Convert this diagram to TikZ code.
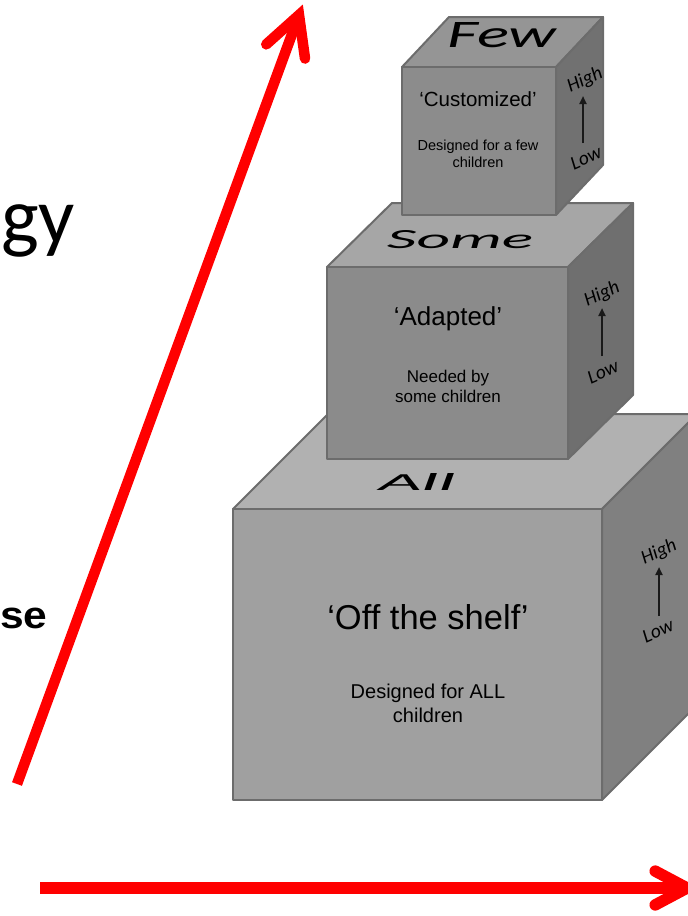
\documentclass[tikz,border=0pt]{standalone}
\usepackage{fontspec}
\setmainfont{Liberation Sans}
\newfontfamily\calib{Carlito}
\usetikzlibrary{calc,arrows.meta}

% greys of the three blocks
\definecolor{edgegray}{HTML}{6C6C6C}
\definecolor{botfront}{HTML}{A0A0A0}
\definecolor{bottop}{HTML}{B1B1B1}
\definecolor{botside}{HTML}{808080}
\definecolor{midfront}{HTML}{8B8B8B}
\definecolor{midtop}{HTML}{A6A6A6}
\definecolor{midside}{HTML}{6F6F6F}
\definecolor{topfront}{HTML}{8C8C8C}
\definecolor{toptop}{HTML}{959595}
\definecolor{topside}{HTML}{717171}
\definecolor{arrowred}{HTML}{FF0000}

\tikzset{
  face/.style={draw=edgegray, line width=2pt, line join=round},
  redshaft/.style={draw=arrowred, line cap=butt},
  redhead/.style={draw=arrowred, line cap=round, line join=miter},
  levelarrow/.style={draw=black!90, line width=2pt, -{Triangle[length=8pt,width=7pt]}},
  hilo/.style={font=\calib\itshape\fontsize{19.5}{20}\selectfont, rotate=24, inner sep=0pt},
}

% front top-left (#1,#2), front bottom-right (#3,#4), depth offset (#5,#6),
% fills: front #7, top #8, side #9
\newcommand\blockcube[9]{%
  \filldraw[face, fill=#8] (#1,#2) -- (#1+#5,#2+#6) -- (#3+#5,#2+#6) -- (#3,#2) -- cycle;
  \filldraw[face, fill=#9] (#3,#2) -- (#3+#5,#2+#6) -- (#3+#5,#4+#6) -- (#3,#4) -- cycle;
  \filldraw[face, fill=#7] (#1,#2) rectangle (#3,#4);
}

\begin{document}
\begin{tikzpicture}[x=1pt,y=-1pt]
\useasboundingbox (0,0) rectangle (688,916);
\clip (0,0) rectangle (688,916);

% ---- the three stacked blocks, largest first ----
\blockcube{233}{509}{602}{800}{95}{-95}{botfront}{bottop}{botside}
\blockcube{327}{267}{568}{459}{65}{-64}{midfront}{midtop}{midside}
\blockcube{402}{67}{556}{215}{47}{-50}{topfront}{toptop}{topside}

% ---- labels on the top faces ----
\node[anchor=base, inner sep=0pt] (few) at (502,47)
  {\resizebox{109pt}{25pt}{\calib\itshape Few}};
\node[anchor=base, inner sep=0pt] (some) at (460,248)
  {\resizebox{146pt}{18pt}{\calib\itshape Some}};
\node[anchor=base, inner sep=0pt] (all) at (417,490)
  {\resizebox{77pt}{17pt}{\calib\itshape All}};

% ---- front face texts ----
\node[anchor=base, inner sep=0pt, font=\fontsize{20.5}{24}\selectfont] (custom) at (478,106) {‘Customized’};
\node[anchor=base, inner sep=0pt, font=\fontsize{14.5}{17}\selectfont] (custA) at (478,150) {Designed for a few};
\node[anchor=base, inner sep=0pt, font=\fontsize{14.5}{17}\selectfont] (custB) at (478,167) {children};

\node[anchor=base, inner sep=0pt, font=\fontsize{26}{30}\selectfont] (adapt) at (448,325) {‘Adapted’};
\node[anchor=base, inner sep=0pt, font=\fontsize{17}{20}\selectfont] (adaptA) at (448,382) {Needed by};
\node[anchor=base, inner sep=0pt, font=\fontsize{17}{20}\selectfont] (adaptB) at (448,402) {some children};

\node[anchor=base, inner sep=0pt, font=\fontsize{34.5}{40}\selectfont] (shelf) at (428,629) {‘Off the shelf’};
\node[anchor=base, inner sep=0pt, font=\fontsize{20}{24}\selectfont] (shelfA) at (428,698) {Designed for ALL};
\node[anchor=base, inner sep=0pt, font=\fontsize{20}{24}\selectfont] (shelfB) at (428,722) {children};

% ---- High / Low scales on the side faces ----
\node[hilo] (hiT) at (585,80) {High};
\node[hilo] (loT) at (586,158) {Low};
\coordinate (arT0) at (583,143);
\coordinate (arT1) at (583,96);
\draw[levelarrow] (arT0) -- (arT1);

\node[hilo] (hiM) at (602,294) {High};
\node[hilo] (loM) at (603,372) {Low};
\coordinate (arM0) at (602,356);
\coordinate (arM1) at (602,308);
\draw[levelarrow] (arM0) -- (arM1);

\node[hilo] (hiB) at (659,552) {High};
\node[hilo] (loB) at (658,631) {Low};
\coordinate (arB0) at (659,616);
\coordinate (arB1) at (659,567);
\draw[levelarrow] (arB0) -- (arB1);

% ---- words at the left edge ----
\node[anchor=base west, inner sep=0pt, font=\calib\fontsize{80}{80}\selectfont] (gy) at (1,243) {gy};
\node[anchor=base west, inner sep=0pt, font=\bfseries\fontsize{38}{40}\selectfont] (se) at (0,628) {\scalebox{1.12}[1]{se}};

% ---- red axes ----
\coordinate (vbase) at (17,784);
\coordinate (vtip) at (299,15);
\draw[redshaft, line width=10.5pt] (vbase) -- (vtip);
\draw[redhead, line width=10.5pt] ($(vtip)!44pt!28:(vbase)$) -- (vtip) -- ($(vtip)!44pt!-28:(vbase)$);

\coordinate (hbase) at (40,888);
\coordinate (htip) at (687,888);
\draw[redshaft, line width=11.5pt] (hbase) -- (htip);
\draw[redhead, line width=11.5pt] ($(htip)!36pt!28:(hbase)$) -- (htip) -- ($(htip)!36pt!-28:(hbase)$);
\end{tikzpicture}
\end{document}
